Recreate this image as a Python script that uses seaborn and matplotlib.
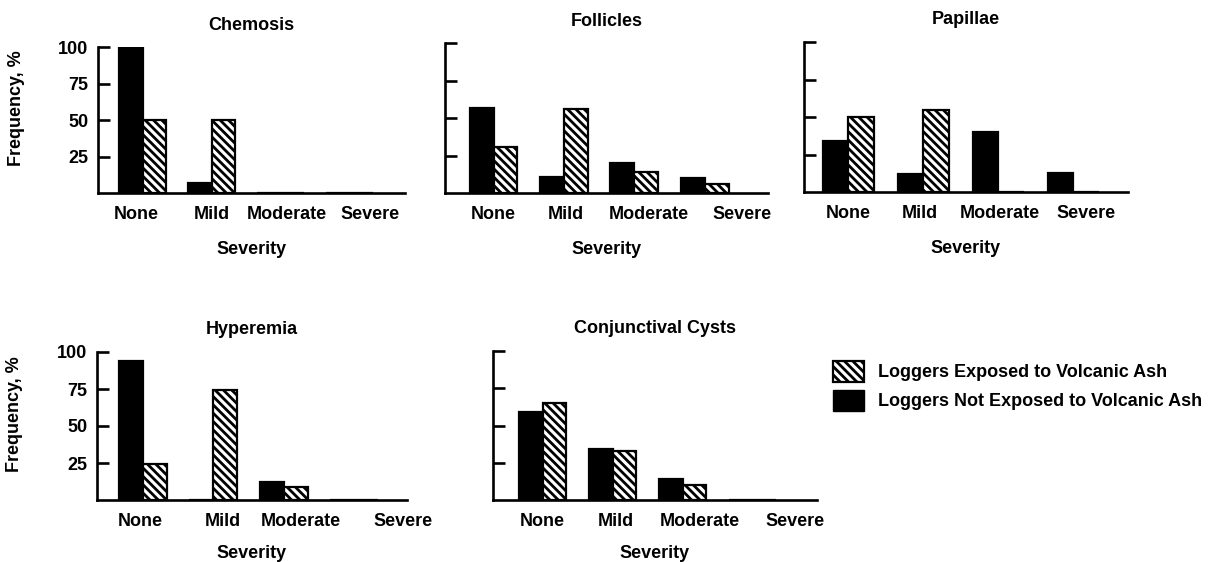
import matplotlib
matplotlib.use("Agg")
import matplotlib.pyplot as plt
from matplotlib.patches import Patch
import seaborn as sns
import pandas as pd

# severity categories shared by every panel
severity = ["None", "Mild", "Moderate", "Severe"]

# frequency (%) per severity
chemosis_not_exposed = [100, 7, 0, 0]
chemosis_exposed = [50, 50, 0, 0]

follicles_not_exposed = [57, 11, 20, 10]
follicles_exposed = [31, 56, 14, 6]

papillae_not_exposed = [34, 12, 40, 13]
papillae_exposed = [50, 55, 0, 0]

hyperemia_not_exposed = [94, 0, 12, 0]
hyperemia_exposed = [24, 74, 9, 0]

cysts_not_exposed = [59, 34, 14, 0]
cysts_exposed = [65, 33, 10, 0]

not_label = "Loggers Not Exposed to Volcanic Ash"
exp_label = "Loggers Exposed to Volcanic Ash"

panels = [
    ("Chemosis", chemosis_not_exposed, chemosis_exposed),
    ("Follicles", follicles_not_exposed, follicles_exposed),
    ("Papillae", papillae_not_exposed, papillae_exposed),
    ("Hyperemia", hyperemia_not_exposed, hyperemia_exposed),
    ("Conjunctival Cysts", cysts_not_exposed, cysts_exposed),
]

# layout: axes boxes in pixels (left, top, right, bottom), x-limits,
# and where the original typeset its severity labels
W, H = 1225, 562
boxes = [
    (98, 47, 405, 193),
    (445, 43, 768, 193),
    (804, 42, 1128, 192),
    (97, 352, 407, 500),
    (493, 351, 817, 500),
]
xlims = [(-0.65, 3.8), (-0.69, 3.9), (-0.59, 3.73), (-0.65, 3.75), (-0.71, 3.92)]
label_pos = [
    [-0.1, 1.0, 2.08, 3.29],
    [0.0, 1.03, 2.2, 3.53],
    [0.0, 0.96, 2.02, 3.17],
    [-0.04, 1.13, 2.24, 3.69],
    [0.0, 1.04, 2.24, 3.61],
]
title_pads = [12, 12, 13, 13, 13]
xlabel_pads = [13, 13, 13, 11, 11]

HATCH = "\\\\\\\\"  # four backslashes -> dense diagonal stripes

sns.set_style("ticks")
plt.rcParams["font.family"] = ["Liberation Sans", "DejaVu Sans"]
plt.rcParams["font.weight"] = "bold"
plt.rcParams["hatch.linewidth"] = 2.0
plt.rcParams["hatch.color"] = "black"
for key in ["text.color", "axes.labelcolor", "xtick.color", "ytick.color", "axes.edgecolor"]:
    plt.rcParams[key] = "black"

fs = 13
fig = plt.figure(figsize=(W / 100, H / 100), dpi=100)

for i, (name, not_vals, exp_vals) in enumerate(panels):
    l, t, r, b = boxes[i]
    ax = fig.add_axes([l / W, 1 - b / H, (r - l) / W, (b - t) / H])

    df = pd.DataFrame({
        "Severity": severity * 2,
        "Frequency": not_vals + exp_vals,
        "Group": [not_label] * 4 + [exp_label] * 4,
    })
    sns.barplot(data=df, x="Severity", y="Frequency", hue="Group",
                hue_order=[not_label, exp_label],
                palette={not_label: "black", exp_label: "white"},
                saturation=1, edgecolor="black", linewidth=1.6,
                width=0.68, legend=False, ax=ax)
    for bar in ax.containers[1]:
        bar.set_hatch(HATCH)

    ax.set_xticks(label_pos[i], severity)
    ax.set_xlim(*xlims[i])
    ax.set_ylim(0, 100)
    ax.set_yticks([25, 50, 75, 100])
    sns.despine(ax=ax)
    for side in ["left", "bottom"]:
        ax.spines[side].set_linewidth(1.9)
    ax.tick_params(axis="y", direction="in", length=8.5, width=1.9, pad=7, labelsize=fs)
    ax.tick_params(axis="x", length=0, pad=9, labelsize=fs)
    for lab in ax.get_xticklabels() + ax.get_yticklabels():
        lab.set_fontweight("bold")

    ax.set_title(name, fontsize=fs, fontweight="bold", pad=title_pads[i])
    ax.set_xlabel("Severity", fontsize=fs, fontweight="bold", labelpad=xlabel_pads[i])
    if i in (0, 3):
        ax.set_ylabel("Frequency, %", fontsize=fs, fontweight="bold")
        ax.yaxis.set_label_coords(-0.238, 0.58)
    else:
        ax.set_ylabel("")
        ax.set_yticklabels([])

handles = [
    Patch(facecolor="white", edgecolor="black", hatch=HATCH, linewidth=1.6, label=exp_label),
    Patch(facecolor="black", edgecolor="black", label=not_label),
]
fig.legend(handles=handles, loc="upper left", bbox_to_anchor=(833 / W, 1 - 361 / H),
           frameon=False, prop={"weight": "bold", "size": fs},
           handlelength=1.7, handleheight=1.4, labelspacing=0.45,
           handletextpad=0.8, borderpad=0, borderaxespad=0)

fig.savefig("out.png", dpi=100, facecolor="white")
